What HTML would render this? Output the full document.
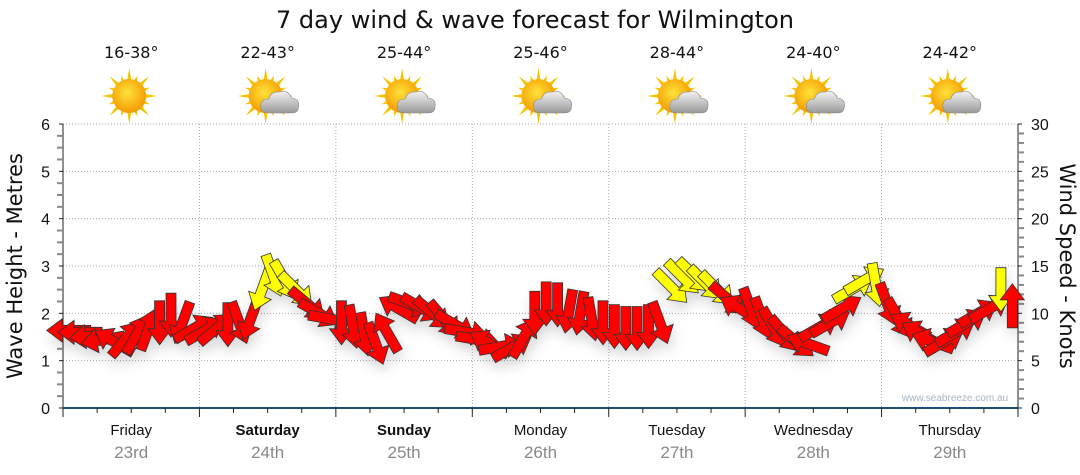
<!DOCTYPE html>
<html><head><meta charset="utf-8">
<style>
html,body{margin:0;padding:0;background:#fff;width:1080px;height:475px;overflow:hidden;font-family:"Liberation Sans","DejaVu Sans",sans-serif}
svg{display:block}
</style></head>
<body>
<svg id="chart" width="1080" height="475" viewBox="0 0 1080 475">
<defs>
<filter id="sh" x="-50%" y="-50%" width="200%" height="200%"><feDropShadow dx="2" dy="7" stdDeviation="6" flood-color="#000" flood-opacity="0.15"/></filter>
<radialGradient id="sunG" cx="45%" cy="40%" r="60%"><stop offset="0" stop-color="#ffe23a"/><stop offset="1" stop-color="#f39a00"/></radialGradient>
<linearGradient id="cloudG" x1="0" y1="0" x2="0" y2="1"><stop offset="0" stop-color="#f2f2f2"/><stop offset="1" stop-color="#9a9a9a"/></linearGradient>
</defs>
<text x="535" y="28" text-anchor="middle" font-size="24" fill="#111" font-family="DejaVu Sans, sans-serif">7 day wind &amp; wave forecast for Wilmington</text>
<g id="grid"></g>
<g id="axes"></g>
<g id="icons"></g>
<g id="arrows" filter="url(#sh)"></g>
<text x="955" y="401" text-anchor="middle" font-size="10" fill="#a8b4c0">www.seabreeze.com.au</text>
<text transform="translate(22,266) rotate(-90)" text-anchor="middle" font-size="21" fill="#111" font-family="DejaVu Sans, sans-serif">Wave Height - Metres</text>
<text transform="translate(1060,266) rotate(90)" text-anchor="middle" font-size="21" fill="#111" font-family="DejaVu Sans, sans-serif">Wind Speed - Knots</text>
</svg>
<script>
const days = ["Friday","Saturday","Sunday","Monday","Tuesday","Wednesday","Thursday"];
const dates = ["23rd","24th","25th","26th","27th","28th","29th"];
const boldDays = [false,true,true,false,false,false,false];
const temps = ["16-38°","22-43°","25-44°","25-46°","28-44°","24-40°","24-42°"];
const cloudy = [false,true,true,true,true,true,true];
const waveTicks = [0,1,2,3,4,5,6];
const windTicks = [0,5,10,15,20,25,30];
const windKnots = [
8.2,8.0,7.6,7.2,7.0,7.3,7.8,8.3,9.0,9.8,9.0,8.4,
8.2,8.4,8.8,9.0,9.4,12.5,14.0,13.5,12.5,11.0,10.0,9.4,
9.0,8.6,7.8,6.8,8.0,10.5,11.0,10.6,10.0,9.4,8.8,8.0,
7.2,6.8,6.5,6.4,7.4,10.0,11.0,10.9,10.2,10.0,9.4,9.0,
8.6,8.4,8.4,8.6,9.0,12.8,13.8,14.0,13.2,12.6,11.5,10.5,
10.5,9.5,8.5,7.8,7.0,6.8,8.5,9.0,10.5,12.6,13.5,13.0,
11.0,9.5,8.7,7.8,7.0,7.0,8.0,9.0,10.0,10.5,12.5,10.8];
const windDir = [
270,270,265,260,300,40,30,20,180,180,200,60,
60,50,180,160,200,200,160,150,135,130,120,100,
180,170,170,160,330,300,110,120,130,140,120,100,
100,300,80,60,30,180,180,180,190,190,170,180,
180,180,180,180,160,135,135,135,135,135,130,300,
160,160,150,140,130,290,60,60,60,60,60,170,
160,150,300,300,290,60,60,60,60,60,180,0];

const X0=63,X1=1018,Y0=408,Y1=124;
const dayW=(X1-X0)/7;
const xHour=h=>X0+h*dayW/24;
const yWave=m=>Y0-(m/6)*(Y0-Y1);
const yWind=k=>Y0-(k/30)*(Y0-Y1);
const NS="http://www.w3.org/2000/svg";
function mk(tag,attrs,parent){const e=document.createElementNS(NS,tag);for(const k in attrs)e.setAttribute(k,attrs[k]);parent.appendChild(e);return e;}
const grid=document.getElementById('grid'),axes=document.getElementById('axes'),icons=document.getElementById('icons'),arrows=document.getElementById('arrows');

waveTicks.forEach(t=>{if(t===0)return;const y=yWave(t);
 const l=mk('line',{x1:X0,x2:X1,y1:y,y2:y,stroke:'#aaa','stroke-dasharray':'1,2'},grid);
 });
for(let d=1;d<7;d++){const x=xHour(d*24);
 const l=mk('line',{x1:x,x2:x,y1:Y1,y2:Y0,stroke:'#aaa','stroke-dasharray':'1,2'},grid);
 }

mk('line',{x1:X0,x2:X0,y1:Y1,y2:Y0,stroke:'#222'},axes);
for(let i=0;i<=24;i++){const y=yWave(i*0.25);mk('line',{x1:X0-(i%4?6:4),x2:X0,y1:y,y2:y,stroke:i%4?'#888':'#222','stroke-width':i%4?2:1},axes);}
waveTicks.forEach(t=>{const e=mk('text',{x:X0-13,y:yWave(t)+6,'text-anchor':'end','font-size':16,fill:'#111'},axes);e.textContent=t;
 });
mk('line',{x1:X1,x2:X1,y1:Y1,y2:Y0,stroke:'#222'},axes);
for(let k=0;k<=30;k++){const y=yWind(k);mk('line',{x1:X1,x2:X1+(k%5?6:4),y1:y,y2:y,stroke:k%5?'#888':'#222','stroke-width':k%5?2:1},axes);}
windTicks.forEach(t=>{const e=mk('text',{x:X1+13,y:yWind(t)+6,'text-anchor':'start','font-size':16,fill:'#111'},axes);e.textContent=t;
 });
mk('line',{x1:X0,x2:X1,y1:Y0,y2:Y0,stroke:'#1a4f7a','stroke-width':2},axes);
for(let h=0;h<=168;h+=6){const x=xHour(h);mk('line',{x1:x,x2:x,y1:Y0,y2:Y0+(h%24?5:9),stroke:'#222'},axes);}
days.forEach((d,i)=>{const cx=xHour(i*24+12);
 const t=mk('text',{x:cx,y:435,'text-anchor':'middle','font-size':15,fill:'#111','font-weight':boldDays[i]?'bold':'normal'},axes);t.textContent=d;
 
 const s=mk('text',{x:cx,y:458,'text-anchor':'middle','font-size':17,fill:'#888'},axes);s.textContent=dates[i];
 
 const tt=mk('text',{x:cx,y:58,'text-anchor':'middle','font-size':16,fill:'#111','font-family':'DejaVu Sans, sans-serif'},icons);tt.textContent=temps[i];
 
 const g=mk('g',{transform:`translate(${cx-2},96)`},icons);
 
 for(let r=0;r<16;r++){const a=r*22.5,L=r%2?22:28;mk('polygon',{points:`-2.5,-13 2.5,-13 0,-${L}`,fill:'#f5c400',transform:`rotate(${a})`},g);}
 mk('circle',{r:17,fill:'url(#sunG)'},g);
 if(cloudy[i]){mk('path',{d:'M2,17 Q-5,17 -5,10 Q-5,3 3,3 Q5,-5 14,-4 Q22,-7 26,2 Q34,3 33,10 Q33,17 26,17 Z',fill:'url(#cloudG)',stroke:'#888','stroke-width':0.6},g);}
});

const step=2;
windKnots.forEach((k,i)=>{const x=xHour(i*step+1),y=yWind(k);
 const col=k>=12?'#ffff00':'#ff0000';
 const p=mk('polygon',{points:'-5,22 5,22 5,-6 12,-6 0,-22 -12,-6 -5,-6',fill:col,stroke:'#333','stroke-width':0.8,
  transform:`translate(${x.toFixed(1)},${y.toFixed(1)}) rotate(${windDir[i]})`},arrows);
 
 
});
</script>
</body></html>
